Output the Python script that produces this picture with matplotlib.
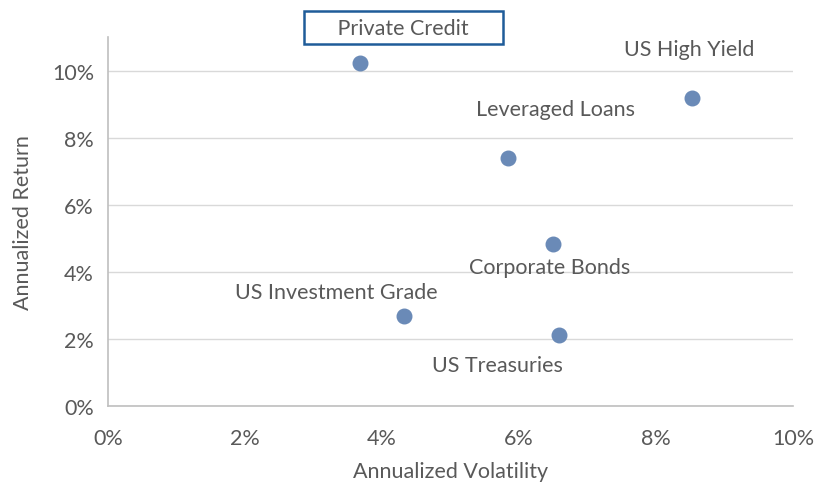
import matplotlib
matplotlib.use('Agg')
import matplotlib.pyplot as plt
from matplotlib.ticker import PercentFormatter

plt.rcParams['font.family'] = ['Lato', 'DejaVu Sans']

names = ['Private Credit', 'US High Yield', 'Leveraged Loans', 'Corporate Bonds',
         'US Investment Grade', 'US Treasuries']
volatility = [3.68, 8.53, 5.84, 6.50, 4.32, 6.58]
returns = [10.24, 9.17, 7.38, 4.82, 2.68, 2.11]
# label offsets from the point, in pixels
offsets = [(43, 35), (-3, 49), (47, 49), (-4, -23), (-68, 24), (-61, -30)]

text_color = '#595959'
grid_color = '#D9D9D9'
fs = 15.5

fig = plt.figure(figsize=(8.15, 4.85), dpi=100)
ax = fig.add_axes([0.1325, 0.161, 0.8405, 0.7606])

ax.scatter(volatility, returns, s=110, color='#6A8AB7', zorder=3)

for name, x, y, off in zip(names, volatility, returns, offsets):
    label = name
    bbox = None
    if name == 'Private Credit':
        label = '     ' + name + '     '
        bbox = dict(boxstyle='square,pad=0.3', fc='white', ec='#1F5C99', lw=1.8)
    ax.annotate(label, (x, y), xytext=off, textcoords='offset pixels',
                ha='center', va='center', fontsize=fs, color=text_color,
                bbox=bbox, annotation_clip=False, zorder=4)

ax.set_xlim(0, 10)
ax.set_ylim(0, 11)
ax.set_xticks(range(0, 11, 2))
ax.set_yticks(range(0, 11, 2))
ax.xaxis.set_major_formatter(PercentFormatter(decimals=0))
ax.yaxis.set_major_formatter(PercentFormatter(decimals=0))
ax.tick_params(length=0, labelsize=fs, labelcolor=text_color)
ax.tick_params(axis='x', pad=16)
ax.tick_params(axis='y', pad=10)

ax.grid(axis='y', color=grid_color, lw=1)
ax.set_axisbelow(True)
for side in ['top', 'right']:
    ax.spines[side].set_visible(False)
for side in ['left', 'bottom']:
    ax.spines[side].set_color('#BFBFBF')
    ax.spines[side].set_linewidth(1.2)

ax.set_xlabel('Annualized Volatility', fontsize=fs, color=text_color, labelpad=9)
ax.set_ylabel('Annualized Return', fontsize=fs, color=text_color, labelpad=14)

fig.savefig('out.png', dpi=100)
